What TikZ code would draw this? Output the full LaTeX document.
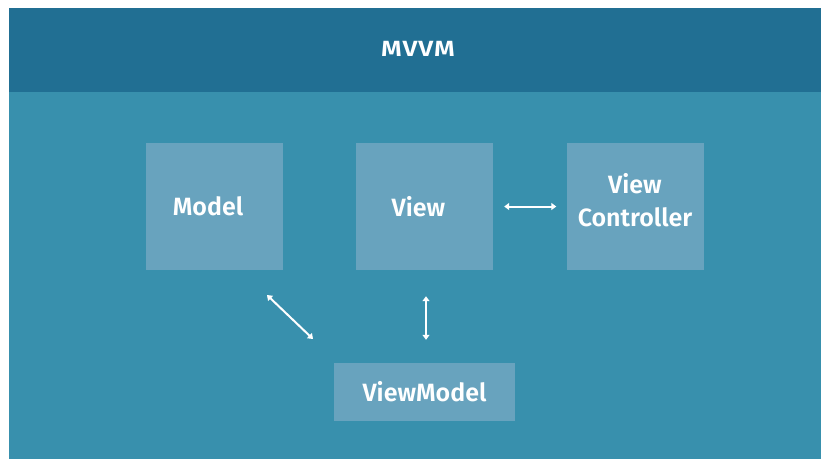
\documentclass[tikz,border=0pt]{standalone}
\usepackage{fontspec}
\setmainfont{Fira Sans}[BoldFont={Fira Sans SemiBold}]
\usepackage{tikz}
\usetikzlibrary{arrows.meta, positioning}

\definecolor{headblue}{RGB}{33,111,147}
\definecolor{bodyblue}{RGB}{56,144,173}
\definecolor{boxblue}{RGB}{104,163,190}

\begin{document}
\begin{tikzpicture}[
      x=1pt, y=-1pt,
      block/.style={fill=boxblue, text=white, font=\bfseries\fontsize{25}{33}\selectfont,
        align=center, inner sep=0pt, minimum width=137pt, minimum height=127pt},
      link/.style={white, line width=2pt,
        {Triangle[length=5pt,width=7pt]}-{Triangle[length=5pt,width=7pt]}}
    ]
      % background and header
      \useasboundingbox (0,0) rectangle (821,459);
      \fill[white] (0,0) rectangle (821,459);
      \fill[bodyblue] (9,8) rectangle (821,459);
      \fill[headblue] (9,8) rectangle (821,92);
      \node[text=white, font=\bfseries\fontsize{22}{26}\selectfont\addfontfeature{FakeStretch=1.2,LetterSpace=4}] (title) at (418,49) {MVVM};

      % boxes
      \node[block] (model) at (214,206.5) {Model\hspace*{12pt}};
      \node[block] (view) at (424.5,206.5) {View\hspace*{12pt}};
      \node[block, text depth=14pt] (vc) at (635,206.5) {View\\Controller};
      \node[block, minimum width=181pt, minimum height=58pt] (vm) at (424.5,392) {ViewModel};

      % arrows
      \coordinate (a1) at (267,295);
      \coordinate (a2) at (313,339);
      \draw[link] (a1) -- (a2);
      \draw[link, shorten <=11pt, shorten >=10pt] (view.east) -- (vc.west);
      \draw[link, shorten <=26pt, shorten >=23pt] ([xshift=1.5pt]view.south) -- ([xshift=1.5pt]vm.north);
    \end{tikzpicture}
\end{document}
